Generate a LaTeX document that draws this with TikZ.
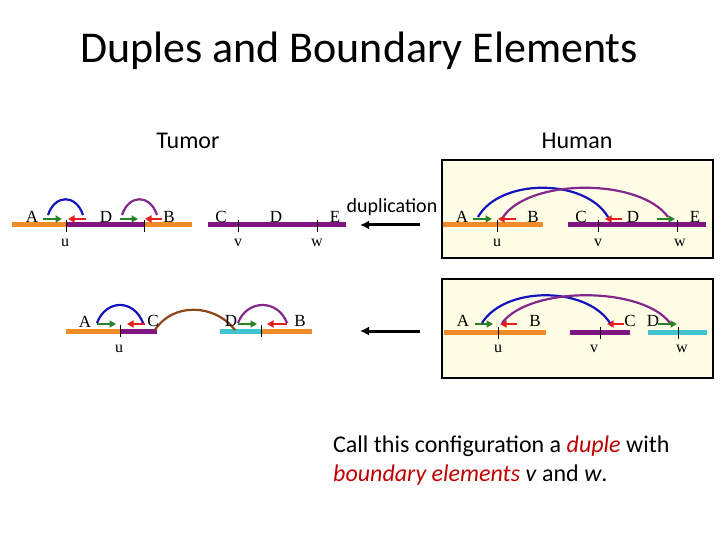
\documentclass[tikz,border=0pt]{standalone}
\usepackage{fontspec}
\setmainfont{Carlito}
\newfontfamily\seriflbl{Liberation Serif}
\usepackage{xcolor}
\usetikzlibrary{arrows.meta}

\definecolor{segorange}{RGB}{240,140,40}
\definecolor{segpurple}{RGB}{128,20,128}
\definecolor{segcyan}{RGB}{64,196,208}
\definecolor{arrgreen}{RGB}{40,130,40}
\definecolor{arrred}{RGB}{230,30,30}
\definecolor{arcblue}{RGB}{20,20,190}
\definecolor{arcpurple}{RGB}{130,40,140}
\definecolor{arcbrown}{RGB}{140,70,20}
\definecolor{boxfill}{RGB}{255,253,230}
\definecolor{termred}{RGB}{192,0,0}

\begin{document}
\begin{tikzpicture}[x=1pt, y=-1pt,
    seg/.style={line width=5pt},
    tick/.style={line width=0.8pt},
    gene/.style={font=\seriflbl\fontsize{17}{17}\selectfont, inner sep=0pt},
    bnd/.style={font=\seriflbl\fontsize{16}{16}\selectfont, inner sep=0pt},
    fwd/.style={arrgreen, line width=2.8pt, -{Triangle[length=6.5pt,width=7pt]}},
    rev/.style={arrred, line width=2.8pt, -{Triangle[length=6.5pt,width=7pt]}},
    arc/.style={line width=2.2pt},
    humanbox/.style={draw=black, line width=1.3pt, fill=boxfill},
    head/.style={font=\fontsize{24}{24}\selectfont},
    duparrow/.style={line width=3pt, -{Latex[length=9pt,width=9pt]}}]
  \useasboundingbox (0,0) rectangle (720,540);

  % Titles
  \node[font=\fontsize{44}{44}\selectfont] (title) at (359,51) {Duples and Boundary Elements};
  \node[head] (tumor) at (188,141) {Tumor};
  \node[head] (human) at (577,141) {Human};

  % Human boxes
  \draw[humanbox] (442,160) rectangle (713,258);
  \draw[humanbox] (442,279) rectangle (713,378);

  % Tumor, first row
  \draw[seg, segorange] (12,225) -- (66,225);
  \draw[seg, segpurple] (66,225) -- (144,225);
  \draw[seg, segorange] (144,225) -- (192,225);
  \draw[seg, segpurple] (208,225) -- (346,225);
  \foreach \x in {66,144,238,317}
    \draw[tick] (\x,220) -- (\x,232);
  \draw[fwd] (43,219) -- (62,219);
  \draw[rev] (86,219) -- (68,219);
  \draw[fwd] (120,219) -- (138,219);
  \draw[rev] (162,219) -- (145,219);
  \draw[arc, arcblue] (48,215) .. controls (55,194) and (76,194) .. (83,215);
  \draw[arc, arcpurple] (122,215) .. controls (129,194) and (150,194) .. (157,215);
  \node[gene] (tA) at (32,217) {A};
  \node[gene] (tD) at (106,217) {D};
  \node[gene] (tB) at (169,217) {B};
  \node[gene] (tC) at (221,217) {C};
  \node[gene] (tD2) at (276,217) {D};
  \node[gene] (tE) at (335,217) {E};
  \node[bnd] (tu) at (65,243) {u};
  \node[bnd] (tv) at (238,243) {v};
  \node[bnd] (tw) at (317,243) {w};

  % Tumor, second row
  \draw[seg, segorange] (66,331) -- (120,331);
  \draw[seg, segpurple] (120,331) -- (157,331);
  \draw[seg, segcyan] (220,331) -- (261,331);
  \draw[seg, segorange] (261,331) -- (312,331);
  \foreach \x in {120,261}
    \draw[tick] (\x,325) -- (\x,337);
  \draw[fwd] (97,324) -- (116,324);
  \draw[rev] (145,324) -- (127,324);
  \draw[fwd] (238,324) -- (257,324);
  \draw[rev] (287,324) -- (267,324);
  \draw[arc, arcblue] (97,323) .. controls (106,299) and (134,299) .. (143,323);
  \draw[arc, arcbrown] (155,330) .. controls (172,303) and (214,303) .. (235,330);
  \draw[arc, arcpurple] (238,323) .. controls (247,299) and (278,299) .. (287,323);
  \node[gene] (bA) at (85,322) {A};
  \node[gene] (bC) at (153,321) {C};
  \node[gene] (bD) at (231,321) {D};
  \node[gene] (bB) at (300,321) {B};
  \node[bnd] (bu) at (119,349) {u};

  % Duplication arrows
  \node[font=\fontsize{20}{20}\selectfont] (dup) at (392,207) {duplication};
  \coordinate (d1s) at (420,225);
  \coordinate (d1e) at (360,225);
  \coordinate (d2s) at (420,331);
  \coordinate (d2e) at (360,331);
  \draw[duparrow] (d1s) -- (d1e);
  \draw[duparrow] (d2s) -- (d2e);

  % Human, first box
  \draw[seg, segorange] (443,225) -- (543,225);
  \draw[seg, segpurple] (568,225) -- (706,225);
  \foreach \x in {497,598,677}
    \draw[tick] (\x,220) -- (\x,232);
  \draw[fwd] (473,219) -- (492,219);
  \draw[rev] (516,219) -- (498,219);
  \draw[rev] (622,219) -- (605,219);
  \draw[fwd] (657,219) -- (675,219);
  \draw[arc, arcblue] (478,217) .. controls (500,178) and (585,178) .. (608,217);
  \draw[arc, arcpurple] (503,217) .. controls (530,178) and (640,178) .. (668,217);
  \node[gene] (hA) at (462,217) {A};
  \node[gene] (hB) at (533,217) {B};
  \node[gene] (hC) at (581,217) {C};
  \node[gene] (hD) at (633,217) {D};
  \node[gene] (hE) at (695,217) {E};
  \node[bnd] (hu) at (497,243) {u};
  \node[bnd] (hv) at (598,243) {v};
  \node[bnd] (hw) at (680,243) {w};

  % Human, second box
  \draw[seg, segorange] (444,332) -- (546,332);
  \draw[seg, segpurple] (570,332) -- (630,332);
  \draw[seg, segcyan] (648,332) -- (707,332);
  \foreach \x in {498,600,678}
    \draw[tick] (\x,327) -- (\x,339);
  \draw[fwd] (475,324) -- (493,324);
  \draw[rev] (517,324) -- (500,324);
  \draw[rev] (624,324) -- (607,324);
  \draw[fwd] (658,324) -- (677,324);
  \draw[arc, arcblue] (482,323) .. controls (505,286) and (586,286) .. (610,323);
  \draw[arc, arcpurple] (502,323) .. controls (530,286) and (642,286) .. (670,323);
  \node[gene] (gA) at (463,321) {A};
  \node[gene] (gB) at (535,321) {B};
  \node[gene] (gC) at (630,321) {C};
  \node[gene] (gD) at (653,321) {D};
  \node[bnd] (gu) at (498,349) {u};
  \node[bnd] (gv) at (594,349) {v};
  \node[bnd] (gw) at (682,349) {w};

  % Caption
  \node[anchor=base west, inner sep=0pt, font=\fontsize{24}{28}\selectfont] (call1) at (333,452)
    {Call this configuration a \textcolor{termred}{\textit{duple}} with};
  \node[anchor=base west, inner sep=0pt, font=\fontsize{24}{28}\selectfont] (call2) at (333,481)
    {\textcolor{termred}{\textit{boundary elements}} \textit{v} and \textit{w}.};
\end{tikzpicture}
\end{document}
